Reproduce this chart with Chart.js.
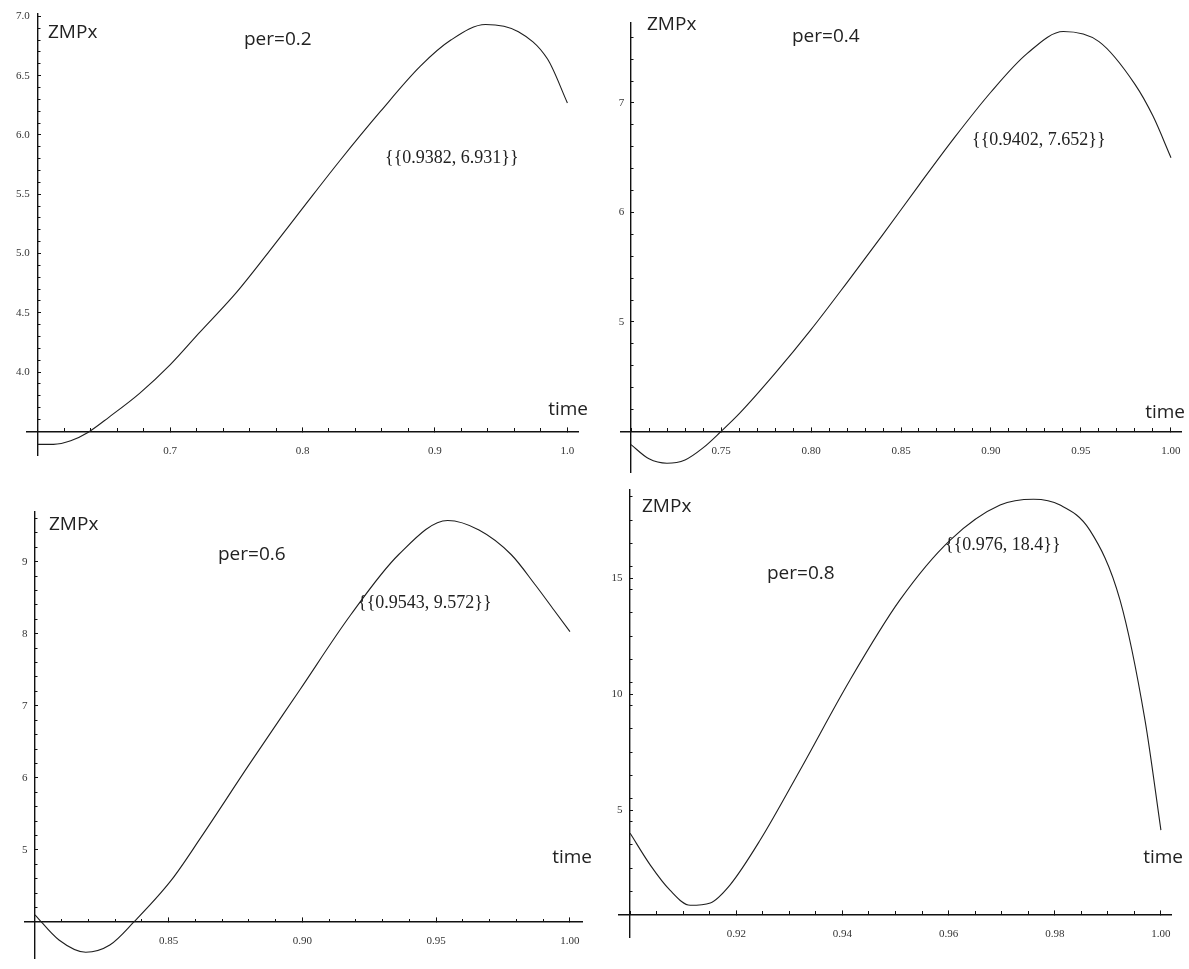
<!DOCTYPE html>
<html>
<head>
<meta charset="utf-8">
<title>ZMPx vs time</title>
<script src="https://cdn.jsdelivr.net/npm/chart.js@4.4.1/dist/chart.umd.min.js"></script>
<style>
  body { margin: 0; background: #fff; }
  #wrap { position: relative; width: 1189px; height: 969px; }
  canvas { position: absolute; }
</style>
</head>
<body>
<div id="wrap">
  <canvas id="c1" width="594" height="480" style="left:0;top:0"></canvas>
  <canvas id="c2" width="595" height="480" style="left:594px;top:0"></canvas>
  <canvas id="c3" width="594" height="489" style="left:0;top:480px"></canvas>
  <canvas id="c4" width="595" height="489" style="left:594px;top:480px"></canvas>
</div>
<script>
// per = 0.2
const p1Time = [0.600, 0.612, 0.625, 0.638, 0.654, 0.677, 0.700, 0.722, 0.750, 0.775, 0.800, 0.828, 0.859, 0.889, 0.912, 0.9382, 0.963, 0.985, 1.000];
const p1Zmp  = [3.39, 3.39, 3.42, 3.49, 3.62, 3.82, 4.06, 4.33, 4.67, 5.02, 5.38, 5.78, 6.20, 6.58, 6.80, 6.931, 6.87, 6.64, 6.27];
const p1XTicks = [0.7, 0.8, 0.9, 1.0];
const p1XLabels = ['0.7', '0.8', '0.9', '1.0'];
const p1YTicks = [4.0, 4.5, 5.0, 5.5, 6.0, 6.5, 7.0];
const p1YLabels = ['4.0', '4.5', '5.0', '5.5', '6.0', '6.5', '7.0'];

// per = 0.4
const p2Time = [0.700, 0.710, 0.720, 0.730, 0.740, 0.750, 0.760, 0.780, 0.800, 0.820, 0.840, 0.860, 0.880, 0.900, 0.920, 0.9402, 0.960, 0.980, 0.990, 1.000];
const p2Zmp  = [3.88, 3.75, 3.71, 3.74, 3.85, 4.00, 4.16, 4.53, 4.93, 5.36, 5.80, 6.25, 6.69, 7.10, 7.45, 7.652, 7.56, 7.17, 6.88, 6.50];
const p2XTicks = [0.75, 0.80, 0.85, 0.90, 0.95, 1.00];
const p2XLabels = ['0.75', '0.80', '0.85', '0.90', '0.95', '1.00'];
const p2YTicks = [5, 6, 7];
const p2YLabels = ['5', '6', '7'];

// per = 0.6
const p3Time = [0.800, 0.809, 0.819, 0.828, 0.837, 0.851, 0.862, 0.880, 0.899, 0.918, 0.936, 0.9543, 0.966, 0.978, 0.987, 0.994, 1.000];
const p3Zmp  = [4.10, 3.75, 3.58, 3.68, 4.00, 4.58, 5.17, 6.18, 7.22, 8.26, 9.10, 9.572, 9.44, 9.10, 8.68, 8.33, 8.03];
const p3XTicks = [0.85, 0.90, 0.95, 1.00];
const p3XLabels = ['0.85', '0.90', '0.95', '1.00'];
const p3YTicks = [5, 6, 7, 8, 9];
const p3YLabels = ['5', '6', '7', '8', '9'];

// per = 0.8
const p4Time = [0.900, 0.9038, 0.9075, 0.9113, 0.9151, 0.9188, 0.9245, 0.932, 0.9414, 0.9508, 0.9603, 0.9697, 0.976, 0.981, 0.9866, 0.9923, 0.997, 1.000];
const p4Zmp  = [4.0, 2.63, 1.55, 0.90, 1.0, 1.77, 3.71, 6.72, 10.6, 14.05, 16.64, 18.15, 18.4, 18.15, 17.07, 14.05, 8.88, 4.14];
const p4XTicks = [0.92, 0.94, 0.96, 0.98, 1.00];
const p4XLabels = ['0.92', '0.94', '0.96', '0.98', '1.00'];
const p4YTicks = [5, 10, 15];
const p4YLabels = ['5', '10', '15'];

const sansFont = '19px "Open Sans", sans-serif';
const serifFont = '18px "Liberation Serif", serif';

// text drawn on top of each plot
const panelText = {
  id: 'panelText',
  afterDraw(chart, args, opts) {
    const ctx = chart.ctx;
    (opts.items || []).forEach(t => {
      ctx.save();
      ctx.font = t.font;
      ctx.fillStyle = '#222';
      ctx.textAlign = t.align || 'left';
      ctx.textBaseline = 'middle';
      ctx.fillText(t.text, t.x, t.y);
      ctx.restore();
    });
  }
};

function steps(from, to, step) {
  const out = [];
  for (let v = from; v <= to + 1e-9; v += step) out.push(+v.toFixed(4));
  return out;
}

// one axis layer drawn where the other axis has value cfg.at
function axis(dir, cfg) {
  const other = dir === 'x' ? 'y' : 'x';
  return {
    type: 'linear',
    axis: dir,
    min: cfg.min,
    max: cfg.max,
    position: { [other]: cfg.at },
    afterBuildTicks: s => { s.ticks = cfg.ticks.map(v => ({ value: v })); },
    // keep label overhang from shrinking the plot area
    afterFit: s => { s.paddingLeft = s.paddingRight = s.paddingTop = s.paddingBottom = 0; },
    ticks: {
      display: !!cfg.labels,
      autoSkip: false,
      maxRotation: 0,
      padding: cfg.pad || 0,
      color: '#333',
      font: { family: '"Liberation Serif", serif', size: 11 },
      callback: (v, i) => cfg.labels ? cfg.labels[i] : ''
    },
    grid: { display: cfg.len !== 0, drawOnChartArea: false, drawTicks: true, tickLength: cfg.len, color: '#111', lineWidth: 1 },
    border: { display: !!cfg.border, color: '#111', width: 1.4 }
  };
}

function makeChart(id, p) {
  const lastX = p.xTicks[p.xTicks.length - 1];
  new Chart(document.getElementById(id), {
    type: 'line',
    data: {
      datasets: [{
        data: p.time.map((t, i) => ({ x: t, y: p.zmp[i] })),
        borderColor: '#1e1e1e',
        borderWidth: 1.1,
        pointRadius: 0,
        cubicInterpolationMode: 'monotone',
        fill: false
      }]
    },
    plugins: [panelText],
    options: {
      responsive: false,
      animation: false,
      layout: { padding: p.padding },
      plugins: {
        legend: { display: false },
        tooltip: { enabled: false },
        panelText: { items: p.texts }
      },
      scales: {
        x: axis('x', { min: p.xMin, max: p.xMax, at: p.originY, ticks: p.xTicks, labels: p.xLabels, len: -5, pad: 18, border: true }),
        xm: axis('x', { min: p.xMin, max: p.xMax, at: p.originY, ticks: steps(p.originX, lastX, p.xMinor), len: -3 }),
        y: axis('y', { min: p.yMin, max: p.yMax, at: p.originX, ticks: p.yTicks, len: -4, border: true }),
        ym: axis('y', { min: p.yMin, max: p.yMax, at: p.originX, ticks: steps(p.originY, p.yMax, p.yMinor), len: -2.5 }),
        yl: axis('y', { min: p.yMin, max: p.yMax, at: p.yLabelAt, ticks: p.yTicks, labels: p.yLabels, len: 0 })
      }
    }
  });
}

makeChart('c1', {
  time: p1Time, zmp: p1Zmp,
  xMin: 0.592, xMax: 1.008, originX: 0.6, xTicks: p1XTicks, xLabels: p1XLabels, xMinor: 0.02,
  yMin: 3.30, yMax: 7.02, originY: 3.5, yTicks: p1YTicks, yLabels: p1YLabels, yMinor: 0.1, yLabelAt: 0.594,
  padding: { left: 27, right: 16, top: 14, bottom: 25 },
  texts: [
    { text: 'ZMPx', x: 48, y: 33, font: sansFont },
    { text: 'per=0.2', x: 244, y: 40, font: sansFont },
    { text: 'time', x: 588, y: 410, font: sansFont, align: 'right' },
    { text: '{{0.9382, 6.931}}', x: 385, y: 158, font: serifFont }
  ]
});

makeChart('c2', {
  time: p2Time, zmp: p2Zmp,
  xMin: 0.69444, xMax: 1.00556, originX: 0.7, xTicks: p2XTicks, xLabels: p2XLabels, xMinor: 0.01,
  yMin: 3.63, yMax: 7.73, originY: 4.0, yTicks: p2YTicks, yLabels: p2YLabels, yMinor: 0.2, yLabelAt: 0.6962,
  padding: { left: 27, right: 8, top: 23, bottom: 8 },
  texts: [
    { text: 'ZMPx', x: 53, y: 25, font: sansFont },
    { text: 'per=0.4', x: 198, y: 37, font: sansFont },
    { text: 'time', x: 591, y: 413, font: sansFont, align: 'right' },
    { text: '{{0.9402, 7.652}}', x: 378, y: 140, font: serifFont }
  ]
});

makeChart('c3', {
  time: p3Time, zmp: p3Zmp,
  xMin: 0.7963, xMax: 1.0045, originX: 0.8, xTicks: p3XTicks, xLabels: p3XLabels, xMinor: 0.01,
  yMin: 3.5, yMax: 9.69, originY: 4.0, yTicks: p3YTicks, yLabels: p3YLabels, yMinor: 0.2, yLabelAt: 0.7972,
  padding: { left: 25, right: 12, top: 32, bottom: 11 },
  texts: [
    { text: 'ZMPx', x: 49, y: 45, font: sansFont },
    { text: 'per=0.6', x: 218, y: 75, font: sansFont },
    { text: 'time', x: 592, y: 378, font: sansFont, align: 'right' },
    { text: '{{0.9543, 9.572}}', x: 358, y: 123, font: serifFont }
  ]
});

makeChart('c4', {
  time: p4Time, zmp: p4Zmp,
  xMin: 0.8979, xMax: 1.0019, originX: 0.9, xTicks: p4XTicks, xLabels: p4XLabels, xMinor: 0.005,
  yMin: -0.47, yMax: 18.8, originY: 0.5, yTicks: p4YTicks, yLabels: p4YLabels, yMinor: 1, yLabelAt: 0.89855,
  padding: { left: 25, right: 18, top: 10, bottom: 32 },
  texts: [
    { text: 'ZMPx', x: 48, y: 27, font: sansFont },
    { text: 'per=0.8', x: 173, y: 94, font: sansFont },
    { text: 'time', x: 589, y: 378, font: sansFont, align: 'right' },
    { text: '{{0.976, 18.4}}', x: 351, y: 65, font: serifFont }
  ]
});
</script>
</body>
</html>
